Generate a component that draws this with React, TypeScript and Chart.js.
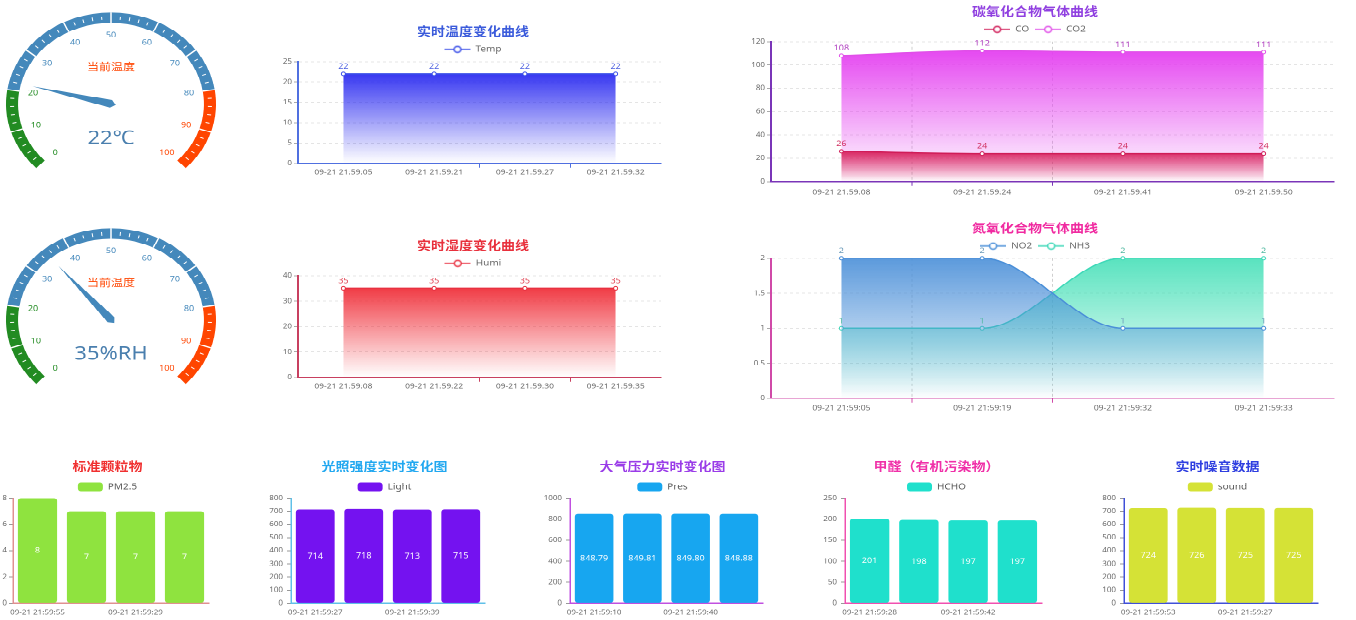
import React, { useEffect, useRef } from 'react';
import { Chart, registerables } from 'chart.js';

Chart.register(...registerables);
Chart.defaults.font.family = '"Noto Sans", "Noto Sans CJK SC", sans-serif';
Chart.defaults.color = '#666';

// ---------- data ----------
const gaugeSegments = [20, 60, 20];
const gaugeColors = ['#228b22', '#4488bb', '#ff4500'];
const gaugeTicks = [0, 10, 20, 30, 40, 50, 60, 70, 80, 90, 100];
const tempGaugeValue = 22;
const humiGaugeValue = 35;

const tempLabels = ['09-21 21:59:05', '09-21 21:59:21', '09-21 21:59:27', '09-21 21:59:32'];
const tempValues = [22, 22, 22, 22];
const tempAxis = [0, 25, 5];

const humiLabels = ['09-21 21:59:08', '09-21 21:59:22', '09-21 21:59:30', '09-21 21:59:35'];
const humiValues = [35, 35, 35, 35];
const humiAxis = [0, 40, 10];

const coLabels = ['09-21 21:59:08', '09-21 21:59:24', '09-21 21:59:41', '09-21 21:59:50'];
const coValues = [26, 24, 24, 24];
const co2Values = [108, 112, 111, 111];
const coAxis = [0, 120, 20];

const no2Labels = ['09-21 21:59:05', '09-21 21:59:19', '09-21 21:59:32', '09-21 21:59:33'];
const no2Values = [2, 2, 1, 1];
const nh3Values = [1, 1, 2, 2];
const no2Axis = [0, 2, 0.5];

const pmLabels = ['09-21 21:59:55', '09-21 21:59:12', '09-21 21:59:29', '09-21 21:59:46'];
const pmValues = [8, 7, 7, 7];
const pmAxis = [0, 8, 2];

const lightLabels = ['09-21 21:59:27', '09-21 21:59:33', '09-21 21:59:39', '09-21 21:59:45'];
const lightValues = [714, 718, 713, 715];
const lightAxis = [0, 800, 100];

const presLabels = ['09-21 21:59:10', '09-21 21:59:25', '09-21 21:59:40', '09-21 21:59:55'];
const presValues = [848.79, 849.81, 849.8, 848.88];
const presAxis = [0, 1000, 200];

const hchoLabels = ['09-21 21:59:28', '09-21 21:59:35', '09-21 21:59:42', '09-21 21:59:49'];
const hchoValues = [201, 198, 197, 197];
const hchoAxis = [0, 250, 50];

const soundLabels = ['09-21 21:59:53', '09-21 21:59:10', '09-21 21:59:27', '09-21 21:59:44'];
const soundValues = [724, 726, 725, 725];
const soundAxis = [0, 800, 100];

// ---------- helpers ----------
const SCALE_Y = 0.87;
const DPR = 2;
const TITLE_FONT = { size: 14, weight: 'bold' as const, family: '"Noto Sans CJK SC", sans-serif' };

function lineIcon(color: string) {
  const c = document.createElement('canvas');
  c.width = 26;
  c.height = 10;
  const g = c.getContext('2d') as CanvasRenderingContext2D;
  g.strokeStyle = color;
  g.lineWidth = 1.5;
  g.beginPath();
  g.moveTo(0, 5);
  g.lineTo(26, 5);
  g.stroke();
  g.beginPath();
  g.arc(13, 5, 3.5, 0, Math.PI * 2);
  g.fillStyle = '#fff';
  g.fill();
  g.stroke();
  return c;
}

function fadeFill(rgb: string, a0: number) {
  return (c: any) => {
    const chart = c.chart;
    const area = chart.chartArea;
    if (!area || c.datasetIndex === undefined) return 'transparent';
    const ds = chart.data.datasets[c.datasetIndex];
    const y0 = chart.scales.y.getPixelForValue(Math.max(...ds.data));
    const g = chart.ctx.createLinearGradient(0, y0, 0, area.bottom);
    g.addColorStop(0, `rgba(${rgb},${a0})`);
    g.addColorStop(1, `rgba(${rgb},0)`);
    return g;
  };
}

function spacerAxis(width: number) {
  return {
    position: 'right',
    display: true,
    grid: { display: false, drawTicks: false },
    border: { display: false },
    ticks: { display: false },
    afterFit: (s: any) => { s.width = width; },
  };
}

const pointLabelPlugin = {
  id: 'pointLabels',
  afterDatasetsDraw(chart: any) {
    const ctx = chart.ctx;
    chart.data.datasets.forEach((ds: any, i: number) => {
      const meta = chart.getDatasetMeta(i);
      ctx.save();
      ctx.font = '9px "Noto Sans", sans-serif';
      ctx.fillStyle = ds.labelColor || '#666';
      ctx.textAlign = 'center';
      ctx.textBaseline = 'bottom';
      meta.data.forEach((el: any, j: number) => {
        ctx.fillText(String(ds.data[j]), el.x, el.y - 4);
      });
      ctx.restore();
    });
  },
};

const barLabelPlugin = {
  id: 'barLabels',
  afterDatasetsDraw(chart: any) {
    const ctx = chart.ctx;
    const ds = chart.data.datasets[0];
    const meta = chart.getDatasetMeta(0);
    ctx.save();
    ctx.font = '9px "Noto Sans", sans-serif';
    ctx.fillStyle = '#fff';
    ctx.textAlign = 'center';
    ctx.textBaseline = 'middle';
    meta.data.forEach((el: any, j: number) => {
      const v = ds.data[j];
      const txt = ds.decimals ? v.toFixed(ds.decimals) : String(v);
      ctx.fillText(txt, el.x, (el.y + el.base) / 2);
    });
    ctx.restore();
  },
};

function lineConfig(p: any) {
  return {
    type: 'line',
    data: { labels: p.labels, datasets: p.datasets.map((d: any) => ({
      label: d.label,
      data: d.data,
      borderColor: d.color,
      borderWidth: 1.5,
      backgroundColor: fadeFill(d.rgb, d.alpha || 0.95),
      fill: 'origin',
      pointRadius: 2,
      pointBackgroundColor: '#fff',
      pointBorderColor: d.color,
      pointBorderWidth: 1,
      cubicInterpolationMode: 'monotone',
      labelColor: d.labelColor,
      clip: false,
    })) },
    options: {
      responsive: false,
      animation: false,
      devicePixelRatio: DPR,
      events: [],
      layout: { padding: { left: p.padL, right: 0, top: 0, bottom: 0 } },
      plugins: {
        title: { display: true, text: p.title, color: p.titleColor, font: TITLE_FONT, padding: { top: 0, bottom: 1 } },
        legend: {
          display: true,
          maxHeight: 25,
          labels: {
            usePointStyle: true,
            pointStyleWidth: 26,
            padding: 6,
            color: '#666',
            font: { size: 10 },
            generateLabels: (chart: any) => chart.data.datasets.map((ds: any, i: number) => ({
              text: ds.label,
              pointStyle: lineIcon(ds.borderColor),
              fillStyle: 'transparent',
              strokeStyle: 'transparent',
              lineWidth: 0,
              hidden: false,
              datasetIndex: i,
              fontColor: '#666',
            })),
          },
        },
        tooltip: { enabled: false },
      },
      scales: {
        x: {
          offset: true,
          grid: {
            offset: true,
            drawOnChartArea: p.vGrid.length > 0,
            color: (c: any) => (p.vGrid.includes(c.index) ? '#cfcfcf' : 'transparent'),
            tickLength: 5,
            tickColor: (c: any) => (p.xTicks.includes(c.index) ? p.axisColor : 'transparent'),
          },
          border: { color: p.axisColor, width: 1.5, dash: [3, 3] },
          ticks: { font: { size: 8.5 }, color: '#666', padding: p.xPad || 0, maxRotation: 0, autoSkip: false },
        },
        y: {
          min: p.axis[0],
          max: p.axis[1],
          ticks: { stepSize: p.axis[2], font: { size: 8 }, color: '#666', padding: 2, callback: (v: any) => String(v) },
          grid: { color: '#e4e4e4', tickLength: 4, tickColor: '#aaa' },
          border: { color: p.axisColor, width: 2, dash: [3, 3] },
          afterFit: (s: any) => { s.width = p.axisW; },
        },
        ...(p.rightW ? { yR: spacerAxis(p.rightW) } : {}),
      },
    },
    plugins: [pointLabelPlugin],
  };
}

function barConfig(p: any) {
  return {
    type: 'bar',
    data: { labels: p.labels, datasets: [{
      label: p.label,
      data: p.data,
      backgroundColor: p.color,
      borderWidth: 0,
      borderRadius: 3,
      borderSkipped: false,
      categoryPercentage: 0.8,
      barPercentage: 1,
      decimals: p.decimals || 0,
    }] },
    options: {
      responsive: false,
      animation: false,
      devicePixelRatio: DPR,
      events: [],
      layout: { padding: { left: p.padL, right: 0, top: 0, bottom: 0 } },
      plugins: {
        title: { display: true, text: p.title, color: p.titleColor, font: TITLE_FONT, padding: { top: 0, bottom: 3.7 } },
        legend: {
          display: true,
          maxHeight: 24,
          labels: { boxWidth: 25, boxHeight: 10, padding: 6, color: '#555', font: { size: 10 }, useBorderRadius: true, borderRadius: 3 },
        },
        tooltip: { enabled: false },
      },
      scales: {
        x: {
          grid: { display: false, drawTicks: false },
          border: { color: p.axisColor, width: 1.5 },
          ticks: {
            font: { size: 8 }, color: '#666', padding: 6, maxRotation: 0, autoSkip: false,
            callback: (_v: any, i: number) => (i % 2 === 0 ? p.labels[i] : ''),
          },
        },
        y: {
          min: p.axis[0],
          max: p.axis[1],
          ticks: { stepSize: p.axis[2], font: { size: 8 }, color: '#666', padding: p.yPad ?? 4, callback: (v: any) => String(v) },
          grid: { drawOnChartArea: false, tickLength: 4, tickColor: '#999' },
          border: { color: p.axisColor, width: 1.5 },
          afterFit: (s: any) => { s.width = p.axisW; },
        },
        yR: spacerAxis(p.rightW),
      },
    },
    plugins: [barLabelPlugin],
  };
}

function gaugeConfig(value: number, title: string, text: string) {
  const angle = (v: number) => ((-225 + 2.7 * v) * Math.PI) / 180;
  const decor = {
    id: 'gaugeDecor',
    afterDatasetsDraw(chart: any) {
      const el = chart.getDatasetMeta(0).data[0];
      const cx = el.x;
      const cy = el.y;
      const R = el.outerRadius;
      const r = el.innerRadius;
      const ctx = chart.ctx;
      ctx.save();
      ctx.strokeStyle = '#fff';
      for (let v = 0; v <= 100; v += 2) {
        const a = angle(v);
        const major = v % 10 === 0;
        const r1 = major ? r : r + 4;
        const r2 = major ? R : r + 8;
        ctx.lineWidth = major ? 1.5 : 1;
        ctx.beginPath();
        ctx.moveTo(cx + Math.cos(a) * r1, cy + Math.sin(a) * r1);
        ctx.lineTo(cx + Math.cos(a) * r2, cy + Math.sin(a) * r2);
        ctx.stroke();
      }
      ctx.font = '9px "Noto Sans", sans-serif';
      ctx.textAlign = 'center';
      ctx.textBaseline = 'middle';
      gaugeTicks.forEach((v) => {
        const a = angle(v);
        ctx.fillStyle = v <= 20 ? gaugeColors[0] : v <= 80 ? gaugeColors[1] : gaugeColors[2];
        ctx.fillText(String(v), cx + Math.cos(a) * 79, cy + Math.sin(a) * 79);
      });
      ctx.font = '12px "Noto Sans CJK SC", sans-serif';
      ctx.fillStyle = '#ff4500';
      ctx.fillText(title, cx, cy - 43);
      const a = angle(value);
      const ux = Math.cos(a);
      const uy = Math.sin(a);
      const L = 81;
      const w = 4.5;
      ctx.fillStyle = '#4488bb';
      ctx.beginPath();
      ctx.moveTo(cx + ux * L, cy + uy * L);
      ctx.lineTo(cx - uy * w, cy + ux * w);
      ctx.lineTo(cx - ux * 5, cy - uy * 5);
      ctx.lineTo(cx + uy * w, cy - ux * w);
      ctx.closePath();
      ctx.fill();
      ctx.font = '22px "Noto Sans", sans-serif';
      ctx.fillStyle = '#4a7fae';
      ctx.fillText(text, cx, cy + 40);
      ctx.restore();
    },
  };
  return {
    type: 'doughnut',
    data: { datasets: [{ data: gaugeSegments, backgroundColor: gaugeColors, borderWidth: 0 }] },
    options: {
      responsive: false,
      animation: false,
      devicePixelRatio: DPR,
      events: [],
      radius: 105,
      cutout: '88.5%',
      rotation: -135,
      circumference: 270,
      plugins: { legend: { display: false }, tooltip: { enabled: false } },
    },
    plugins: [decor],
  };
}

function ChartCanvas({ box, make }: { box: number[]; make: () => any }) {
  const ref = useRef<HTMLCanvasElement>(null);
  useEffect(() => {
    const chart = new Chart(ref.current as HTMLCanvasElement, make());
    return () => chart.destroy();
  }, []);
  const [l, t, w, h] = box;
  return (
    <canvas
      ref={ref}
      width={w}
      height={h}
      style={{ position: 'absolute', left: l, top: t, width: w, height: h }}
    />
  );
}

export default function App() {
  return (
    <div style={{ position: 'fixed', left: 0, top: 0, width: 1356, height: 620, overflow: 'hidden', background: '#fff' }}>
      <div
        style={{
          position: 'absolute', left: 0, top: 0, width: 1356, height: 620 / SCALE_Y,
          transform: `scaleY(${SCALE_Y})`, transformOrigin: '0 0',
        }}
      >
        <ChartCanvas box={[-9, -16, 240, 240]} make={() => gaugeConfig(tempGaugeValue, '当前温度', `${tempGaugeValue}℃`)} />
        <ChartCanvas box={[-9, 232, 240, 240]} make={() => gaugeConfig(humiGaugeValue, '当前温度', `${humiGaugeValue}%RH`)} />

        <ChartCanvas box={[260, 28, 406, 175]} make={() => lineConfig({
          title: '实时温度变化曲线', titleColor: '#3b5bdb', axisColor: '#5070e0', labels: tempLabels,
          axis: tempAxis, padL: 20, axisW: 18, rightW: 3, vGrid: [], xTicks: [2, 3],
          datasets: [{ label: 'Temp', data: tempValues, color: '#3b4fe8', rgb: '45,45,240', labelColor: '#4a5ee0' }],
        })} />
        <ChartCanvas box={[260, 274, 406, 175]} make={() => lineConfig({
          title: '实时湿度变化曲线', titleColor: '#e8303c', axisColor: '#c84060', labels: humiLabels,
          axis: humiAxis, padL: 20, axisW: 18, rightW: 3, vGrid: [], xTicks: [2, 3],
          datasets: [{ label: 'Humi', data: humiValues, color: '#e83040', rgb: '240,50,60', labelColor: '#e04050' }],
        })} />

        <ChartCanvas box={[700, 5, 639, 223]} make={() => lineConfig({
          title: '碳氧化合物气体曲线', titleColor: '#9040e0', axisColor: '#7a35b8', labels: coLabels,
          axis: coAxis, padL: 31, axisW: 40, vGrid: [1, 2], xTicks: [1, 2], xPad: 2,
          datasets: [
            { label: 'CO', data: coValues, color: '#d01c58', rgb: '215,30,90', labelColor: '#d03060' },
            { label: 'CO2', data: co2Values, color: '#e04fe8', rgb: '228,64,240', labelColor: '#b040c0' },
          ],
        })} />
        <ChartCanvas box={[700, 254, 639, 221]} make={() => lineConfig({
          title: '氮氧化合物气体曲线', titleColor: '#f02aa0', axisColor: '#d04aa8', labels: no2Labels,
          axis: no2Axis, padL: 31, axisW: 40, vGrid: [1, 2], xTicks: [1, 2], xPad: 1,
          datasets: [
            { label: 'NO2', data: no2Values, color: '#4a8fd8', rgb: '74,143,216', alpha: 0.9, labelColor: '#6a9ab8' },
            { label: 'NH3', data: nh3Values, color: '#3ed8b8', rgb: '60,222,180', alpha: 0.85, labelColor: '#50b8a0' },
          ],
        })} />

        <ChartCanvas box={[-5, 528, 222, 187]} make={() => barConfig({
          title: '标准颗粒物', titleColor: '#f03030', axisColor: '#e09090', label: 'PM2.5', color: '#8fe33f',
          labels: pmLabels, data: pmValues, axis: pmAxis, padL: 3, axisW: 15, rightW: 8, yPad: 2,
        })} />
        <ChartCanvas box={[262, 528, 240, 187]} make={() => barConfig({
          title: '光照强度实时变化图', titleColor: '#22a8f0', axisColor: '#60c0e8', label: 'Light', color: '#7412f0',
          labels: lightLabels, data: lightValues, axis: lightAxis, padL: 5, axisW: 24, rightW: 17,
        })} />
        <ChartCanvas box={[536, 528, 248, 187]} make={() => barConfig({
          title: '大气压力实时变化图', titleColor: '#9a3ce8', axisColor: '#c050e0', label: 'Pres', color: '#17a6f0',
          labels: presLabels, data: presValues, axis: presAxis, padL: 5, axisW: 29, rightW: 21, decimals: 2,
        })} />
        <ChartCanvas box={[816, 528, 236, 187]} make={() => barConfig({
          title: '甲醛（有机污染物）', titleColor: '#f030a8', axisColor: '#f050b0', label: 'HCHO', color: '#1fe0cc',
          labels: hchoLabels, data: hchoValues, axis: hchoAxis, padL: 5, axisW: 24, rightW: 10,
        })} />
        <ChartCanvas box={[1095, 528, 240, 187]} make={() => barConfig({
          title: '实时噪音数据', titleColor: '#2f3fe0', axisColor: '#4050d8', label: 'sound', color: '#d5e236',
          labels: soundLabels, data: soundValues, axis: soundAxis, padL: 5, axisW: 24, rightW: 17,
        })} />
      </div>
    </div>
  );
}
